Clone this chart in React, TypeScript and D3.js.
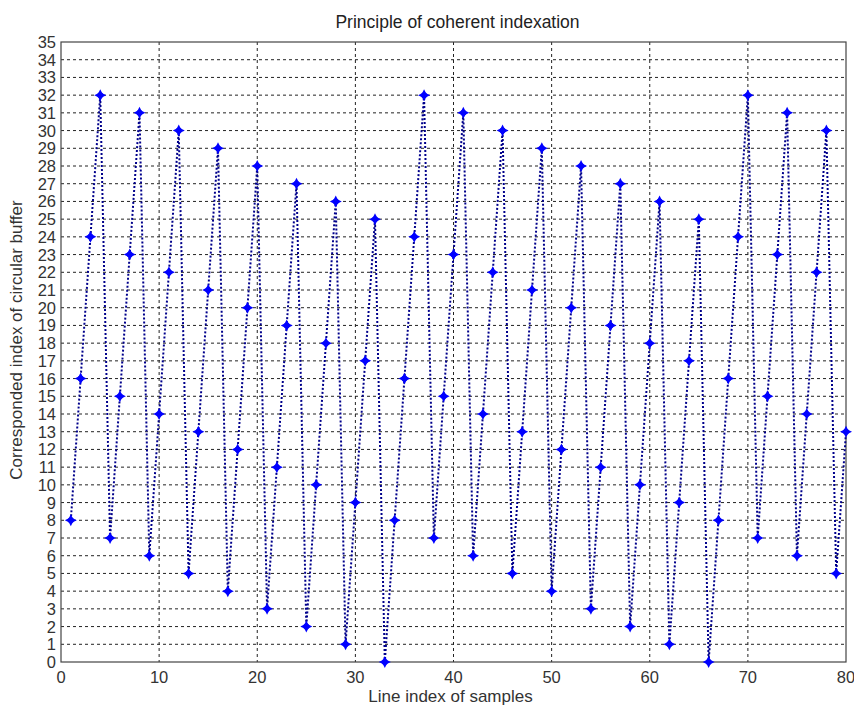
import React from 'react';
import * as d3 from 'd3';

const sampleIndex = d3.range(1, 81);
const bufferIndex = [
  8, 16, 24, 32, 7, 15, 23, 31, 6, 14, 22, 30, 5, 13, 21, 29, 4, 12, 20, 28,
  3, 11, 19, 27, 2, 10, 18, 26, 1, 9, 17, 25, 0, 8, 16, 24, 32, 7, 15, 23,
  31, 6, 14, 22, 30, 5, 13, 21, 29, 4, 12, 20, 28, 3, 11, 19, 27, 2, 10, 18,
  26, 1, 9, 17, 25, 0, 8, 16, 24, 32, 7, 15, 23, 31, 6, 14, 22, 30, 5, 13,
];
const xTicks = [0, 10, 20, 30, 40, 50, 60, 70, 80];
const yTicks = d3.range(0, 36);

const width = 854;
const height = 707;
const margin = { top: 42, right: 8, bottom: 45, left: 61 };

const App = () => {
  const { top, right, bottom, left } = margin;
  const innerWidth = width - left - right;
  const innerHeight = height - top - bottom;

  const xScale = d3.scaleLinear().domain([0, 80]).range([0, innerWidth]);
  const yScale = d3.scaleLinear().domain([0, 35]).range([innerHeight, 0]);

  const points = sampleIndex.map((x, i) => ({ x, y: bufferIndex[i] }));
  const line = d3.line<{ x: number; y: number }>()
    .x(d => xScale(d.x))
    .y(d => yScale(d.y));

  const font = 'Arial, "Liberation Sans", sans-serif';

  return (
    <svg width={width} height={height} style={{ position: 'absolute', left: 0, top: 0, background: '#fff' }}>
      <text x={left + innerWidth / 2 + 4} y={28} textAnchor="middle" fontFamily={font} fontSize={17.5} fill="#222">
        Principle of coherent indexation
      </text>
      <g transform={`translate(${left}, ${top})`}>
        {xTicks.filter(t => t > 0 && t < 80).map(t => (
          <line key={'gx' + t} x1={xScale(t)} x2={xScale(t)} y1={0} y2={innerHeight}
            stroke="#222" strokeWidth={1} strokeDasharray="3,3" />
        ))}
        {yTicks.filter(t => t > 0 && t < 35).map(t => (
          <line key={'gy' + t} x1={0} x2={innerWidth} y1={yScale(t)} y2={yScale(t)}
            stroke="#222" strokeWidth={1} strokeDasharray="3,3" />
        ))}
        <rect x={0} y={0} width={innerWidth} height={innerHeight} fill="none" stroke="#444" strokeWidth={1.2} />
        {xTicks.map(t => (
          <text key={'tx' + t} x={xScale(t)} y={innerHeight + 21} textAnchor="middle"
            fontFamily={font} fontSize={16.5} fill="#333">{t}</text>
        ))}
        {yTicks.map(t => (
          <text key={'ty' + t} x={-5} y={yScale(t)} dy="0.36em" textAnchor="end"
            fontFamily={font} fontSize={16.5} fill="#333">{t}</text>
        ))}
        <path d={line(points) || ''} fill="none" stroke="#00008b" strokeWidth={2} strokeDasharray="2,2" />
        {points.map(p => (
          <g key={p.x} transform={`translate(${xScale(p.x)}, ${yScale(p.y)})`}>
            <path d="M0,-6 L2,-2 L6,0 L2,2 L0,6 L-2,2 L-6,0 L-2,-2 Z" fill="#0000ff" />
            <circle r={3} fill="#0000ff" />
          </g>
        ))}
      </g>
      <text x={left + innerWidth / 2 - 3} y={702} textAnchor="middle"
        fontFamily={font} fontSize={17} fill="#333">Line index of samples</text>
      <text transform={`translate(22, ${top + innerHeight / 2 - 12}) rotate(-90)`} textAnchor="middle"
        fontFamily={font} fontSize={17} fill="#333">Corresponded index of circular buffer</text>
    </svg>
  );
};

export default App;
